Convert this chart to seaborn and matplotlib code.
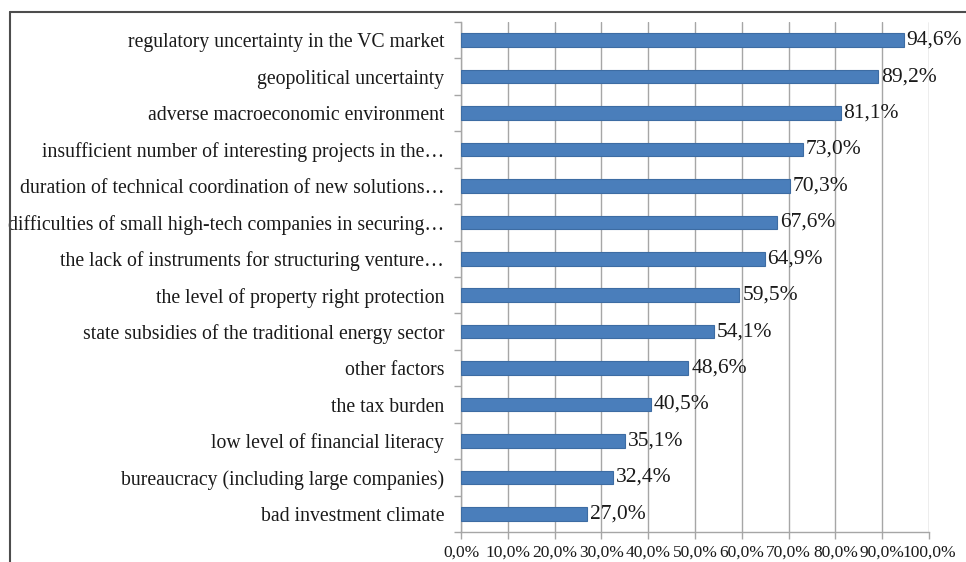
import matplotlib
matplotlib.use("Agg")
import matplotlib.pyplot as plt
from matplotlib.lines import Line2D
from matplotlib.ticker import FuncFormatter
import seaborn as sns
import pandas as pd

factors = [
    "regulatory uncertainty in the VC market",
    "geopolitical uncertainty",
    "adverse macroeconomic environment",
    "insufficient number of interesting projects in the\u2026",
    "duration of technical coordination of new solutions\u2026",
    "difficulties of small high-tech companies in securing\u2026",
    "the lack of instruments for structuring venture\u2026",
    "the level of property right protection",
    "state subsidies of the traditional energy sector",
    "other factors",
    "the tax burden",
    "low level of financial literacy",
    "bureaucracy (including large companies)",
    "bad investment climate",
]
shares = [94.6, 89.2, 81.1, 73.0, 70.3, 67.6, 64.9, 59.5, 54.1, 48.6, 40.5, 35.1, 32.4, 27.0]
x_ticks = [0, 10, 20, 30, 40, 50, 60, 70, 80, 90, 100]

df = pd.DataFrame({"factor": factors, "share": shares})

sns.set_style("white")
plt.rcParams["font.family"] = ["Liberation Serif", "DejaVu Serif"]

fig = plt.figure(figsize=(9.66, 5.62), dpi=100)
ax = fig.add_axes([461 / 966, 1 - 532 / 562, (929 - 461) / 966, (532 - 22) / 562])

bar_color = "#4a7ebb"
sns.barplot(data=df, x="share", y="factor", orient="h", color=bar_color,
            width=0.37, edgecolor="#3d6ca3", linewidth=0.8, saturation=1, ax=ax, zorder=3)

def pct(v):
    return f"{v:.1f}%".replace(".", ",")

ax.bar_label(ax.containers[0], labels=[pct(v) for v in shares], padding=2,
             fontsize=15.5, color="#1a1a1a", zorder=4)

ax.set_xlim(0, 100)
ax.set_ylim(len(factors) - 0.5, -0.5)
ax.set_xticks(x_ticks)
ax.xaxis.set_major_formatter(FuncFormatter(lambda v, _: pct(v)))

grid_c = "#a6a6a6"
ax.grid(axis="x", color=grid_c, linewidth=1.0, zorder=0)
ax.grid(axis="y", visible=False)
for side in ("top", "right"):
    ax.spines[side].set_visible(False)
for side in ("left", "bottom"):
    ax.spines[side].set_color(grid_c)
    ax.spines[side].set_linewidth(1.0)

# category tick marks sit on the boundaries between bars
ax.set_yticks(range(len(factors)))
ax.set_yticklabels(factors, fontsize=14.2, color="#1a1a1a")
ax.tick_params(axis="y", which="major", left=False, length=0, pad=12)
ax.set_yticks([i - 0.5 for i in range(len(factors) + 1)], minor=True)
ax.tick_params(axis="y", which="minor", left=True, length=5, color=grid_c,
               width=1.0, direction="out")
ax.tick_params(axis="x", bottom=True, length=5, color=grid_c, width=1.0,
               labelsize=12.5, labelcolor="#1a1a1a", pad=4)
ax.set_xlabel("")
ax.set_ylabel("")

# outer frame lines (left and top)
fig.add_artist(Line2D([10 / 966, 10 / 966], [0, 1 - 11.5 / 562], transform=fig.transFigure,
                      color="#4d4d4d", linewidth=1.5))
fig.add_artist(Line2D([10 / 966, 1], [1 - 11.5 / 562, 1 - 11.5 / 562], transform=fig.transFigure,
                      color="#4d4d4d", linewidth=1.5))

fig.savefig("out.png", dpi=100, facecolor="white")
